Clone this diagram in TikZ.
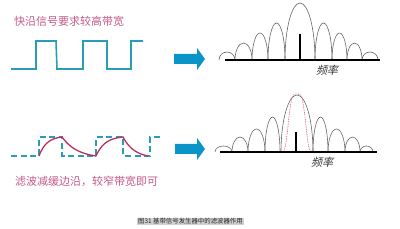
\documentclass[tikz,border=0pt]{standalone}
\usepackage{fontspec}
\newfontfamily\cjk{Noto Sans CJK SC}
\newfontfamily\cjkslant[FakeSlant=0.25]{Noto Sans CJK SC}
\definecolor{wave}{HTML}{2A9CBA}
\definecolor{labelpink}{HTML}{C45A86}
\definecolor{filtred}{HTML}{B8305E}
\definecolor{arrowblue}{HTML}{0A94C8}
\definecolor{dotred}{HTML}{D0607A}
\tikzset{
  sqwave/.style={draw=wave, line width=1.6pt, line join=miter},
  dashwave/.style={draw=wave, line width=1.4pt, dash pattern=on 6pt off 3.5pt},
  filtcurve/.style={draw=filtred, line width=1.3pt},
  lobe/.style={draw=black!60, line width=0.6pt},
  axisline/.style={draw=black, line width=1.6pt},
  spike/.style={draw=black, line width=1.6pt},
  bigarrow/.style={fill=arrowblue, draw=none},
  pinklabel/.style={text=labelpink, font=\cjk\fontsize{11}{12}\selectfont, inner sep=0pt, anchor=west},
  freqlabel/.style={text=black!80, font=\cjkslant\fontsize{11}{12}\selectfont, inner sep=0pt},
  captionbox/.style={fill=black!18, text=black!85, font=\cjk\fontsize{6.4}{7}\selectfont, inner xsep=1pt, inner ysep=0.8pt},
  reddots/.style={draw=dotred, line width=0.7pt, dash pattern=on 0.8pt off 0.9pt}
}
\newcommand{\lobeat}[4]{\draw[lobe] (#1,#4) arc[start angle=180, end angle=0, x radius=#2pt, y radius=#3pt];}
\begin{document}
\begin{tikzpicture}[x=1pt,y=1pt]
\useasboundingbox (0,0) rectangle (400,229);
% ---------- top row ----------
\node[pinklabel] (toplabel) at (14,208) {快沿信号要求较高带宽};
\draw[sqwave] (11,160) -- (36,160) -- (36,188) -- (56,188) -- (57,160) -- (83,160) -- (83,188) -- (107,188) -- (107,160) -- (131,160) -- (131,188) -- (143,188);
\fill[bigarrow] (174,165) -- (197,165) -- (197,159) -- (205,170) -- (197,181) -- (197,175) -- (174,175) -- cycle;
% top spectrum
\lobeat{219}{8}{8}{169}
\lobeat{235}{8.5}{17}{169}
\lobeat{252}{8}{27}{169}
\lobeat{268}{8.5}{37}{169}
\lobeat{285}{15}{57}{169}
\lobeat{315}{8.5}{37}{169}
\lobeat{332}{7.5}{27}{169}
\lobeat{347}{7.5}{17}{169}
\lobeat{362}{8}{8}{169}
\coordinate (ta) at (225,169);
\coordinate (tb) at (380,169);
\draw[axisline] (ta) -- (tb);
\coordinate (ts0) at (300,169);
\coordinate (ts1) at (300,195);
\draw[spike] (ts0) -- (ts1);
\node[freqlabel] (topfreq) at (327,159) {频率};
% ---------- bottom row ----------
\draw[dashwave] (11,73) -- (39,73) -- (39,92) -- (62,92) -- (62,73) -- (96,73) -- (96,92) -- (123,92) -- (123,73) -- (150,73) -- (150,92) -- (163,92);
\draw[filtcurve] plot[domain=0:1, samples=30, smooth] ({39+23*\x}, {73+19*(1-exp(-3*\x))/(1-exp(-3))})
  -- plot[domain=0:1, samples=30, smooth] ({62+34*\x}, {73+19*(exp(-2.2*\x)-exp(-2.2))/(1-exp(-2.2))})
  -- plot[domain=0:1, samples=30, smooth] ({96+27*\x}, {73+19*(1-exp(-3*\x))/(1-exp(-3))})
  -- plot[domain=0:1, samples=30, smooth] ({123+25*\x}, {73+19*(exp(-2.2*\x)-exp(-2.2))/(1-exp(-2.2))});
\node[pinklabel] (botlabel) at (15,48) {滤波减缓边沿，较窄带宽即可};
\fill[bigarrow] (175,75) -- (197,75) -- (197,69) -- (205,80) -- (197,91) -- (197,85) -- (175,85) -- cycle;
% bottom spectrum
\lobeat{215}{8.5}{6}{77}
\lobeat{232}{8}{15}{77}
\lobeat{248}{8.5}{23}{77}
\lobeat{265}{7.5}{35}{77}
\lobeat{281}{16}{57}{77}
\lobeat{313}{7.5}{35}{77}
\lobeat{328}{8.5}{23}{77}
\lobeat{345}{7.5}{15}{77}
\lobeat{360}{6.5}{6}{77}
\draw[reddots] plot[domain=-14:14, samples=80, smooth] ({297+\x}, {77+58*exp(-(\x/9.5)*(\x/9.5)*(\x/9.5)*(\x/9.5))});
\coordinate (ba) at (220,77);
\coordinate (bb) at (377,77);
\draw[axisline] (ba) -- (bb);
\coordinate (bs0) at (296,77);
\coordinate (bs1) at (296,97);
\draw[spike] (bs0) -- (bs1);
\node[freqlabel] (botfreq) at (322,67) {频率};
% ---------- caption ----------
\node[captionbox] (caption) at (190.5,7.5) {图31 基带信号发生器中的滤波器作用};
\end{tikzpicture}
\end{document}
